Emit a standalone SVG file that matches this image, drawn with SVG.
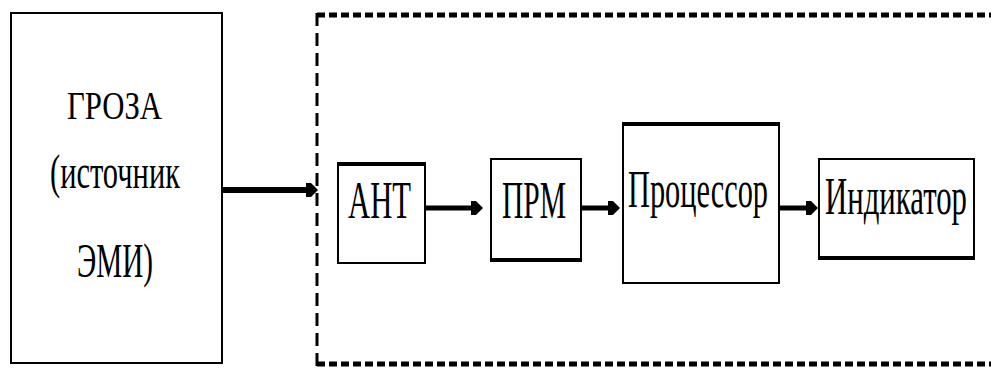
<svg xmlns="http://www.w3.org/2000/svg" width="991" height="368" viewBox="0 0 991 368">
<style>
.box{fill:#fff;stroke:#000;stroke-width:2}
.edge{stroke:#000;stroke-width:4}
.t{font-family:"Liberation Serif","Times New Roman",serif;fill:#000}
.conn{stroke:#000;fill:none}
.frameH{stroke:#000;stroke-width:5;stroke-dasharray:8 4;fill:none}
.frameV{stroke:#000;stroke-width:3;stroke-dasharray:13 7;fill:none}
</style>
<defs>
<marker id="ah" viewBox="0 0 12 16" refX="4" refY="8" markerWidth="12" markerHeight="16" markerUnits="userSpaceOnUse" orient="auto">
<path d="M0,1 L5,1 L12,8 L5,15 L0,15 Z" fill="#000"/>
</marker>
</defs>
<rect width="991" height="368" fill="#fff"/>

<g id="frame">
<line class="frameH" x1="317" y1="15" x2="995" y2="15"/>
<line class="frameH" x1="317" y1="364" x2="995" y2="364"/>
<line class="frameV" x1="317" y1="13" x2="317" y2="366"/>
</g>

<g id="groza">
<rect class="box" x="11" y="13" width="211" height="350"/>
<text class="t" transform="translate(67,119) scale(0.74,1)" font-size="41" textLength="128.4" lengthAdjust="spacingAndGlyphs">ГРОЗА</text>
<text class="t" transform="translate(50,188) scale(0.625,1)" font-size="48" textLength="208" lengthAdjust="spacingAndGlyphs">(источник</text>
<text class="t" transform="translate(77,277) scale(0.61,1)" font-size="48" textLength="124.6" lengthAdjust="spacingAndGlyphs">ЭМИ)</text>
</g>

<g id="ant">
<rect class="box" x="338" y="163" width="87" height="100"/>
<line class="edge" x1="337" y1="164" x2="426" y2="164"/>
<text class="t" transform="translate(348,218) scale(0.59,1)" font-size="52" textLength="106.8" lengthAdjust="spacingAndGlyphs">АНТ</text>
</g>

<g id="prm">
<rect class="box" x="491" y="159" width="90" height="102"/>
<line class="edge" x1="490" y1="260" x2="582" y2="260"/>
<text class="t" transform="translate(502,218) scale(0.57,1)" font-size="52" textLength="112.3" lengthAdjust="spacingAndGlyphs">ПРМ</text>
</g>

<g id="processor">
<rect class="box" x="623" y="123" width="156" height="160"/>
<line class="edge" x1="622" y1="124" x2="780" y2="124"/>
<text class="t" transform="translate(628,207) scale(0.59,1)" font-size="52" textLength="237.3" lengthAdjust="spacingAndGlyphs">Процессор</text>
</g>

<g id="indicator">
<rect class="box" x="819" y="159" width="155" height="100" stroke-width="3"/>
<line class="edge" x1="818" y1="258" x2="975" y2="258"/>
<text class="t" transform="translate(825,214) scale(0.58,1)" font-size="52" textLength="244.8" lengthAdjust="spacingAndGlyphs">Индикатор</text>
</g>

<g id="connectors">
<line class="conn" x1="222" y1="190" x2="310" y2="190" stroke-width="6" marker-end="url(#ah)"/>
<line class="conn" x1="425" y1="208" x2="475" y2="208" stroke-width="5" marker-end="url(#ah)"/>
<line class="conn" x1="581" y1="208" x2="612" y2="208" stroke-width="5" marker-end="url(#ah)"/>
<line class="conn" x1="779" y1="208" x2="810" y2="208" stroke-width="5" marker-end="url(#ah)"/>
</g>
</svg>
